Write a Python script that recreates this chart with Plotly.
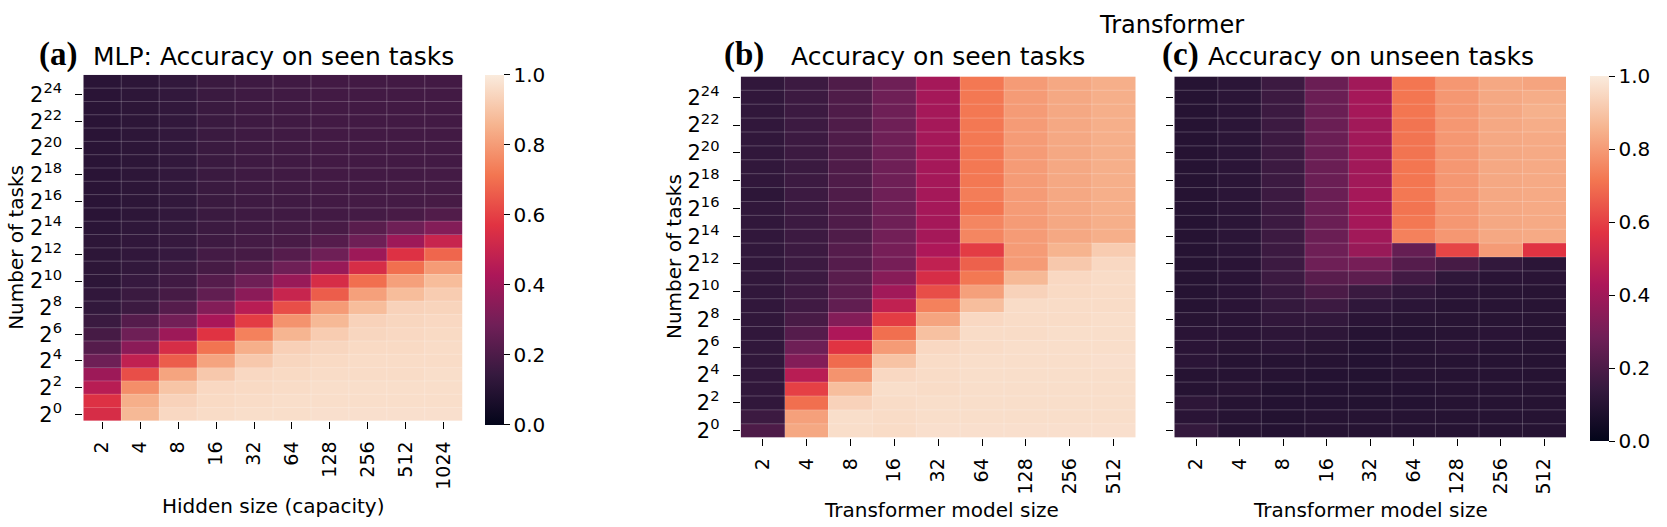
import plotly.graph_objects as go

W, H = 1667, 527

# ---------------- data ----------------
exponents = list(range(25, -1, -1))          # rows, top (2^25) to bottom (2^0)
ytick_exps = list(range(24, -1, -2))
mlp_sizes = ["2", "4", "8", "16", "32", "64", "128", "256", "512", "1024"]
tf_sizes = ["2", "4", "8", "16", "32", "64", "128", "256", "512"]

# (a) MLP: accuracy on seen tasks (rows 2^25 ... 2^0)
mlp_seen = [
    [0.11, 0.12, 0.135, 0.155, 0.165, 0.17, 0.175, 0.175, 0.175, 0.175],
    [0.11, 0.12, 0.135, 0.155, 0.165, 0.17, 0.175, 0.175, 0.175, 0.175],
    [0.11, 0.12, 0.135, 0.155, 0.165, 0.17, 0.175, 0.175, 0.175, 0.175],
    [0.11, 0.12, 0.135, 0.155, 0.165, 0.17, 0.175, 0.175, 0.175, 0.175],
    [0.11, 0.12, 0.135, 0.155, 0.165, 0.17, 0.175, 0.175, 0.175, 0.175],
    [0.11, 0.12, 0.135, 0.155, 0.165, 0.17, 0.175, 0.175, 0.175, 0.175],
    [0.11, 0.12, 0.135, 0.155, 0.165, 0.17, 0.175, 0.175, 0.175, 0.175],
    [0.11, 0.12, 0.135, 0.155, 0.165, 0.17, 0.175, 0.175, 0.175, 0.18],
    [0.11, 0.12, 0.135, 0.155, 0.165, 0.17, 0.175, 0.175, 0.18, 0.18],
    [0.11, 0.12, 0.135, 0.155, 0.165, 0.17, 0.175, 0.18, 0.18, 0.185],
    [0.11, 0.12, 0.135, 0.155, 0.165, 0.17, 0.175, 0.18, 0.19, 0.21],
    [0.115, 0.125, 0.14, 0.16, 0.17, 0.18, 0.19, 0.23, 0.28, 0.33],
    [0.12, 0.13, 0.145, 0.165, 0.18, 0.19, 0.22, 0.28, 0.39, 0.50],
    [0.12, 0.13, 0.146, 0.18, 0.185, 0.22, 0.28, 0.39, 0.56, 0.68],
    [0.12, 0.135, 0.16, 0.184, 0.22, 0.28, 0.38, 0.54, 0.70, 0.80],
    [0.12, 0.146, 0.17, 0.22, 0.28, 0.38, 0.54, 0.70, 0.81, 0.88],
    [0.13, 0.155, 0.184, 0.25, 0.35, 0.50, 0.66, 0.81, 0.88, 0.92],
    [0.135, 0.16, 0.22, 0.33, 0.46, 0.63, 0.80, 0.88, 0.935, 0.94],
    [0.155, 0.22, 0.29, 0.42, 0.59, 0.78, 0.87, 0.935, 0.945, 0.95],
    [0.185, 0.28, 0.39, 0.57, 0.74, 0.86, 0.92, 0.945, 0.95, 0.955],
    [0.22, 0.35, 0.54, 0.71, 0.845, 0.93, 0.945, 0.955, 0.955, 0.96],
    [0.28, 0.48, 0.66, 0.82, 0.91, 0.945, 0.955, 0.96, 0.96, 0.96],
    [0.39, 0.63, 0.82, 0.91, 0.95, 0.955, 0.96, 0.96, 0.96, 0.965],
    [0.46, 0.77, 0.90, 0.95, 0.955, 0.96, 0.965, 0.965, 0.965, 0.965],
    [0.56, 0.845, 0.935, 0.955, 0.96, 0.965, 0.965, 0.965, 0.965, 0.965],
    [0.54, 0.87, 0.95, 0.96, 0.965, 0.965, 0.97, 0.97, 0.97, 0.97],
]

# (b) Transformer: accuracy on seen tasks
tf_seen = [
    [0.13, 0.16, 0.205, 0.28, 0.41, 0.72, 0.80, 0.83, 0.845],
    [0.13, 0.16, 0.205, 0.28, 0.41, 0.72, 0.80, 0.83, 0.845],
    [0.13, 0.16, 0.205, 0.28, 0.41, 0.72, 0.80, 0.83, 0.845],
    [0.13, 0.16, 0.205, 0.28, 0.41, 0.72, 0.80, 0.83, 0.845],
    [0.13, 0.16, 0.205, 0.28, 0.41, 0.72, 0.80, 0.83, 0.845],
    [0.13, 0.16, 0.205, 0.28, 0.41, 0.72, 0.80, 0.83, 0.845],
    [0.13, 0.155, 0.205, 0.28, 0.41, 0.72, 0.80, 0.83, 0.845],
    [0.13, 0.16, 0.205, 0.28, 0.41, 0.72, 0.80, 0.83, 0.845],
    [0.12, 0.16, 0.205, 0.28, 0.41, 0.73, 0.80, 0.83, 0.845],
    [0.13, 0.16, 0.205, 0.28, 0.41, 0.715, 0.80, 0.83, 0.845],
    [0.13, 0.16, 0.205, 0.28, 0.41, 0.75, 0.80, 0.83, 0.845],
    [0.13, 0.16, 0.205, 0.29, 0.41, 0.75, 0.80, 0.83, 0.845],
    [0.13, 0.16, 0.22, 0.30, 0.43, 0.59, 0.80, 0.857, 0.92],
    [0.13, 0.16, 0.22, 0.30, 0.48, 0.67, 0.80, 0.91, 0.95],
    [0.13, 0.16, 0.23, 0.34, 0.54, 0.72, 0.87, 0.95, 0.96],
    [0.13, 0.165, 0.235, 0.40, 0.63, 0.81, 0.935, 0.955, 0.96],
    [0.13, 0.17, 0.25, 0.48, 0.74, 0.883, 0.96, 0.96, 0.96],
    [0.13, 0.19, 0.33, 0.59, 0.82, 0.95, 0.96, 0.96, 0.965],
    [0.13, 0.22, 0.43, 0.70, 0.89, 0.96, 0.96, 0.965, 0.965],
    [0.13, 0.28, 0.57, 0.80, 0.95, 0.96, 0.965, 0.965, 0.965],
    [0.13, 0.33, 0.69, 0.896, 0.96, 0.965, 0.965, 0.965, 0.97],
    [0.13, 0.46, 0.78, 0.95, 0.96, 0.965, 0.965, 0.965, 0.965],
    [0.13, 0.60, 0.883, 0.965, 0.96, 0.965, 0.965, 0.965, 0.965],
    [0.13, 0.70, 0.935, 0.96, 0.965, 0.965, 0.965, 0.965, 0.965],
    [0.16, 0.81, 0.965, 0.96, 0.965, 0.965, 0.965, 0.965, 0.965],
    [0.20, 0.83, 0.965, 0.96, 0.97, 0.97, 0.97, 0.97, 0.97],
]

# (c) Transformer: accuracy on unseen tasks
tf_unseen = [
    [0.10, 0.115, 0.16, 0.27, 0.40, 0.715, 0.79, 0.83, 0.82],
    [0.10, 0.115, 0.16, 0.27, 0.41, 0.715, 0.79, 0.83, 0.84],
    [0.10, 0.115, 0.16, 0.27, 0.41, 0.715, 0.79, 0.83, 0.85],
    [0.10, 0.115, 0.16, 0.27, 0.40, 0.71, 0.79, 0.83, 0.84],
    [0.10, 0.115, 0.16, 0.27, 0.40, 0.71, 0.79, 0.83, 0.835],
    [0.10, 0.115, 0.16, 0.27, 0.40, 0.71, 0.79, 0.83, 0.835],
    [0.10, 0.115, 0.16, 0.27, 0.40, 0.715, 0.79, 0.83, 0.835],
    [0.10, 0.115, 0.16, 0.27, 0.40, 0.715, 0.79, 0.83, 0.835],
    [0.10, 0.115, 0.16, 0.27, 0.41, 0.72, 0.79, 0.83, 0.835],
    [0.10, 0.115, 0.16, 0.27, 0.41, 0.71, 0.79, 0.83, 0.835],
    [0.10, 0.115, 0.16, 0.27, 0.41, 0.72, 0.79, 0.83, 0.835],
    [0.10, 0.115, 0.16, 0.27, 0.40, 0.74, 0.79, 0.83, 0.835],
    [0.10, 0.115, 0.16, 0.28, 0.38, 0.26, 0.61, 0.80, 0.57],
    [0.10, 0.11, 0.16, 0.28, 0.30, 0.22, 0.185, 0.135, 0.115],
    [0.10, 0.11, 0.16, 0.23, 0.24, 0.175, 0.125, 0.11, 0.11],
    [0.10, 0.11, 0.15, 0.195, 0.155, 0.13, 0.11, 0.105, 0.105],
    [0.10, 0.11, 0.14, 0.16, 0.125, 0.115, 0.105, 0.105, 0.105],
    [0.105, 0.11, 0.13, 0.135, 0.11, 0.105, 0.105, 0.105, 0.105],
    [0.11, 0.11, 0.12, 0.12, 0.10, 0.10, 0.105, 0.11, 0.105],
    [0.11, 0.105, 0.115, 0.105, 0.095, 0.10, 0.11, 0.10, 0.10],
    [0.115, 0.10, 0.10, 0.10, 0.095, 0.10, 0.10, 0.10, 0.10],
    [0.10, 0.10, 0.10, 0.095, 0.09, 0.10, 0.10, 0.10, 0.10],
    [0.10, 0.105, 0.09, 0.095, 0.09, 0.095, 0.10, 0.10, 0.10],
    [0.12, 0.10, 0.095, 0.095, 0.09, 0.095, 0.10, 0.10, 0.10],
    [0.11, 0.10, 0.09, 0.10, 0.10, 0.10, 0.10, 0.10, 0.10],
    [0.14, 0.10, 0.095, 0.10, 0.10, 0.10, 0.10, 0.10, 0.10],
]

cbar_ticks = [0.0, 0.2, 0.4, 0.6, 0.8, 1.0]

# ---------------- style ----------------
rocket = [
    [0.0, "#03051a"], [1 / 7, "#35193e"], [2 / 7, "#701f57"], [3 / 7, "#ad1759"],
    [4 / 7, "#e13342"], [5 / 7, "#f37651"], [6 / 7, "#f6b48f"], [1.0, "#faebdd"],
]
FONT = "DejaVu Sans"


def px(x):
    return x / W


def py(y):
    return 1 - y / H


panels = [
    dict(z=mlp_seen, sizes=mlp_sizes, xd=(83.3, 462.7), yd=(75.7, 425.7), cbar=(485, 75.7, 350.0), ylab=True),
    dict(z=tf_seen, sizes=tf_sizes, xd=(740.7, 1135.7), yd=(77.3, 442.7), cbar=None, ylab=True),
    dict(z=tf_unseen, sizes=tf_sizes, xd=(1174.3, 1566.0), yd=(77.3, 442.7), cbar=(1590, 77.3, 365.4), ylab=False),
]

fig = go.Figure()
layout = {}
shapes = []
for i, p in enumerate(panels, start=1):
    n = len(p["sizes"])
    xs = list(range(n))
    tr = dict(
        z=p["z"], x=xs, y=exponents, colorscale=rocket, zmin=0, zmax=1,
        xaxis=f"x{i}", yaxis=f"y{i}", hoverinfo="skip",
        showscale=p["cbar"] is not None,
    )
    if p["cbar"] is not None:
        cx, ctop, clen = p["cbar"]
        tr["colorbar"] = dict(
            x=px(cx), xanchor="left", xpad=0, y=py(ctop), yanchor="top", ypad=0,
            len=clen, lenmode="pixels", thickness=19, outlinewidth=0,
            ticks="outside", ticklen=6, tickwidth=1, tickcolor="black",
            tickvals=cbar_ticks, ticktext=[f"{v:.1f}" for v in cbar_ticks],
            tickfont=dict(family=FONT, size=20, color="black"),
        )
    fig.add_trace(go.Heatmap(**tr))
    layout[f"xaxis{i}"] = dict(
        domain=[px(p["xd"][0]), px(p["xd"][1])], anchor=f"y{i}",
        range=[-0.5, n - 0.5], tickvals=xs, ticktext=p["sizes"], tickangle=-90,
        ticks="outside", ticklen=7, tickwidth=1, tickcolor="black",
        tickfont=dict(family=FONT, size=19, color="black"),
        showgrid=False, zeroline=False, showline=False, ticklabelstandoff=5,
    )
    layout[f"yaxis{i}"] = dict(
        domain=[py(p["yd"][1]), py(p["yd"][0])], anchor=f"x{i}",
        range=[-0.5, len(exponents) - 0.5], tickvals=ytick_exps,
        ticktext=[f"2<sup>{e}</sup>" for e in ytick_exps],
        showticklabels=p["ylab"],
        ticks="outside", ticklen=7, tickwidth=1, tickcolor="black",
        tickfont=dict(family=FONT, size=21, color="black"),
        showgrid=False, zeroline=False, showline=False, ticklabelstandoff=9,
    )
    xr = "x" if i == 1 else f"x{i}"
    yr = "y" if i == 1 else f"y{i}"
    grid = dict(color="rgba(255,255,255,0.22)", width=1)
    for k in range(len(exponents) - 1):
        shapes.append(dict(type="line", xref=xr, yref=yr, x0=-0.5, x1=n - 0.5,
                           y0=k + 0.5, y1=k + 0.5, line=grid, layer="above"))
    for k in range(n - 1):
        shapes.append(dict(type="line", xref=xr, yref=yr, x0=k + 0.5, x1=k + 0.5,
                           y0=-0.5, y1=len(exponents) - 0.5, line=grid, layer="above"))


def ann(text, x, y, size, xanchor="center", yanchor="middle", angle=0, family=FONT, bold=False):
    t = f"<b>{text}</b>" if bold else text
    return dict(text=t, x=px(x), y=py(y), xref="paper", yref="paper", showarrow=False,
                xanchor=xanchor, yanchor=yanchor, textangle=angle,
                font=dict(family=family, size=size, color="black"))


annotations = [
    ann("(a)", 37, 55, 33, xanchor="left", family="Liberation Serif", bold=True),
    ann("MLP: Accuracy on seen tasks", 273, 57, 25),
    ann("(b)", 722, 55, 33, xanchor="left", family="Liberation Serif", bold=True),
    ann("Accuracy on seen tasks", 938, 57, 25),
    ann("(c)", 1160, 55, 33, xanchor="left", family="Liberation Serif", bold=True),
    ann("Accuracy on unseen tasks", 1371, 57, 25),
    ann("Transformer", 1171, 25, 24),
    ann("Number of tasks", 16, 250.7, 20, angle=-90),
    ann("Number of tasks", 674, 260, 20, angle=-90),
    ann("Hidden size (capacity)", 273, 512, 20),
    ann("Transformer model size", 941, 516, 20),
    ann("Transformer model size", 1370, 516, 20),
]

fig.update_layout(
    width=W, height=H, autosize=False,
    margin=dict(l=0, r=0, t=0, b=0),
    paper_bgcolor="white", plot_bgcolor="white",
    font=dict(family=FONT, color="black"),
    shapes=shapes, annotations=annotations,
    **layout,
)

fig.write_html("out.html")
